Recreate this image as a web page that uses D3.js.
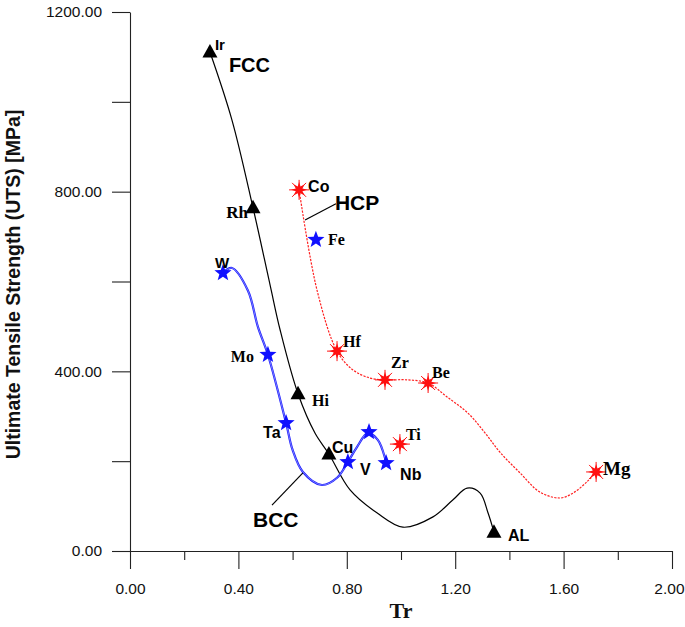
<!DOCTYPE html>
<html>
<head>
<meta charset="utf-8">
<script src="https://cdn.jsdelivr.net/npm/d3@7"></script>
<style>
  html, body { margin: 0; padding: 0; background: #fff; }
  svg { display: block; }
</style>
</head>
<body>
<svg id="chart" width="685" height="627"></svg>
<script>
// ---------------- DATA ----------------
// FCC (black triangles)
const fccNames = ["Ir", "Rh", "Hi", "Cu", "AL"];
const fccTr    = [0.295, 0.454, 0.620, 0.734, 1.343];
const fccUTS   = [1111, 764, 350, 216, 42];
// FCC curve trace
const fccCurveTr  = [0.295, 0.376, 0.454, 0.517, 0.554, 0.620, 0.683, 0.734, 0.812, 0.911, 1.007, 1.118, 1.192, 1.244, 1.292, 1.321, 1.343];
const fccCurveUTS = [1111, 960, 764, 592, 492, 350, 262, 216, 136, 85, 53, 76, 114, 140, 129, 85, 42];

// BCC (blue stars)
const bccNames = ["W", "Mo", "Ta", "V", "", "Nb", "Fe"];
const bccTr    = [0.343, 0.509, 0.576, 0.804, 0.882, 0.945, 0.686];
const bccUTS   = [619, 437, 285, 198, 265, 196, 693];
// BCC curve trace
const bccCurveTr  = [0.343, 0.376, 0.435, 0.472, 0.509, 0.576, 0.600, 0.638, 0.708, 0.764, 0.804, 0.838, 0.878, 0.915, 0.941, 0.945];
const bccCurveUTS = [619, 630, 580, 499, 437, 285, 225, 176, 147, 163, 198, 232, 263, 247, 207, 196];

// HCP (red stars)
const hcpNames = ["Co", "Hf", "Zr", "Be", "Mg", "Ti"];
const hcpTr    = [0.624, 0.764, 0.941, 1.100, 1.720, 0.996];
const hcpUTS   = [804, 445, 381, 374, 176, 238];
// HCP curve trace
const hcpCurveTr  = [0.624, 0.690, 0.764, 0.823, 0.886, 0.941, 1.022, 1.100, 1.170, 1.247, 1.310, 1.365, 1.439, 1.513, 1.587, 1.635, 1.686, 1.720];
const hcpCurveUTS = [804, 581, 445, 403, 385, 381, 381, 374, 343, 307, 263, 220, 174, 131, 118, 129, 154, 176];

// Axis ticks
const xMajorTicks = [0, 0.4, 0.8, 1.2, 1.6, 2.0];
const xMinorTicks = [0.2, 0.6, 1.0, 1.4, 1.8];
const yMajorTicks = [0, 400, 800, 1200];
const yMinorTicks = [200, 600, 1000];

// Group annotations
const groupNames = ["FCC", "HCP", "BCC"];
const groupTr    = [0.365, 0.756, 0.454];
const groupUTS   = [1067, 759, 53];
// leader lines [fromTr, fromUTS, toTr, toUTS]
const leaderHCP = [0.646, 737, 0.760, 773];
const leaderBCC = [0.524, 102, 0.638, 174];

// ---------------- CHART ----------------
const svg = d3.select("#chart");
svg.append("rect").attr("width", 685).attr("height", 627).attr("fill", "#fff");

const x = d3.scaleLinear().domain([0, 2]).range([130, 672]);
const y = d3.scaleLinear().domain([0, 1200]).range([551, 12]);

const axisColor = "#222";
const tickFont = "'Liberation Sans', Arial, sans-serif";

// X axis
const gx = svg.append("g").attr("transform", `translate(0,${y(0)})`);
gx.call(d3.axisBottom(x).tickValues(xMajorTicks).tickSize(18).tickSizeOuter(0).tickPadding(14)
  .tickFormat(d3.format(".2f")));
const gxm = svg.append("g").attr("transform", `translate(0,${y(0)})`);
gxm.call(d3.axisBottom(x).tickValues(xMinorTicks).tickSize(9).tickSizeOuter(0).tickFormat(""));
gxm.select(".domain").remove();

// Y axis
const gy = svg.append("g").attr("transform", `translate(${x(0)},0)`);
gy.call(d3.axisLeft(y).tickValues(yMajorTicks).tickSize(18).tickSizeOuter(0).tickPadding(10)
  .tickFormat(d3.format(".2f")));
const gym = svg.append("g").attr("transform", `translate(${x(0)},0)`);
gym.call(d3.axisLeft(y).tickValues(yMinorTicks).tickSize(18).tickSizeOuter(0).tickFormat(""));
gym.select(".domain").remove();

svg.selectAll(".domain, .tick line").attr("stroke", axisColor).attr("stroke-width", 1.1);
svg.selectAll(".tick text").attr("font-family", tickFont).attr("font-size", 15.5).attr("fill", "#111");
// keep the last x label inside the picture
gx.selectAll(".tick text").filter(d => d === 2.0).attr("text-anchor", "end").attr("dx", 12);

// Axis titles
svg.append("text")
  .attr("transform", `translate(20,${(y(0) + y(1200)) / 2 + 3}) rotate(-90)`)
  .attr("text-anchor", "middle")
  .attr("font-family", tickFont).attr("font-weight", "bold").attr("font-size", 19.5)
  .attr("fill", "#111")
  .text("Ultimate Tensile Strength (UTS) [MPa]");
svg.append("text")
  .attr("x", (x(0) + x(2)) / 2).attr("y", 618)
  .attr("text-anchor", "middle")
  .attr("font-family", "'Liberation Serif', 'Times New Roman', serif").attr("font-weight", "bold").attr("font-size", 22)
  .attr("fill", "#111")
  .text("Tr");

// Curves
const line = d3.line().x(d => x(d[0])).y(d => y(d[1])).curve(d3.curveCatmullRom.alpha(0.5));
svg.append("path").attr("d", line(d3.zip(fccCurveTr, fccCurveUTS)))
  .attr("fill", "none").attr("stroke", "#000").attr("stroke-width", 1.2);
svg.append("path").attr("d", line(d3.zip(bccCurveTr, bccCurveUTS)))
  .attr("fill", "none").attr("stroke", "#1a1aff").attr("stroke-width", 2.2);
svg.append("path").attr("d", line(d3.zip(bccCurveTr, bccCurveUTS)))
  .attr("fill", "none").attr("stroke", "#b8c0ff").attr("stroke-width", 0.6);
svg.append("path").attr("d", line(d3.zip(hcpCurveTr, hcpCurveUTS)))
  .attr("fill", "none").attr("stroke", "#ff2020").attr("stroke-width", 1.2)
  .attr("stroke-dasharray", "2.2,1.3");

// Leader lines
[leaderHCP, leaderBCC].forEach(l => {
  svg.append("line")
    .attr("x1", x(l[0])).attr("y1", y(l[1])).attr("x2", x(l[2])).attr("y2", y(l[3]))
    .attr("stroke", "#000").attr("stroke-width", 1.2);
});

// Marker shapes
function starPath(n, rOut, rIn) {
  const pts = [];
  for (let i = 0; i < 2 * n; i++) {
    const r = i % 2 === 0 ? rOut : rIn;
    const a = -Math.PI / 2 + i * Math.PI / n;
    pts.push([r * Math.cos(a), r * Math.sin(a)]);
  }
  return "M" + pts.map(p => p[0].toFixed(2) + "," + p[1].toFixed(2)).join("L") + "Z";
}
const triPath = "M0,-8L7.5,5.5L-7.5,5.5Z";
const blueStar = starPath(5, 9, 3.8);
const redStar = starPath(8, 8, 3.6);

// FCC markers
svg.append("g").selectAll("path").data(d3.range(fccNames.length)).join("path")
  .attr("transform", i => `translate(${x(fccTr[i])},${y(fccUTS[i])})`)
  .attr("d", triPath).attr("fill", "#000");

// BCC markers
svg.append("g").selectAll("path").data(d3.range(bccNames.length)).join("path")
  .attr("transform", i => `translate(${x(bccTr[i])},${y(bccUTS[i])})`)
  .attr("d", blueStar).attr("fill", "#1010ff");

// HCP markers
const hg = svg.append("g").selectAll("g").data(d3.range(hcpNames.length)).join("g")
  .attr("transform", i => `translate(${x(hcpTr[i])},${y(hcpUTS[i])})`);
hg.append("path").attr("d", redStar).attr("fill", "#ff1010");
hg.append("path").attr("d", "M0,-10V10M-10,0H10M-7,-7L7,7M-7,7L7,-7")
  .attr("stroke", "#ff1010").attr("stroke-width", 1);

// Point labels: [dx, dy, anchor, font, size]
const sans = "'Liberation Sans', Arial, sans-serif";
const serif = "'Liberation Serif', 'Times New Roman', serif";
const fccLabelStyle = [
  [5, -2, "start", sans, 15],
  [-5, 10, "end", serif, 17],
  [14, 12, "start", serif, 16],
  [3, -1, "start", sans, 16],
  [14, 9, "start", sans, 16]
];
const bccLabelStyle = [
  [-8, -5, "start", sans, 15],
  [-14, 7, "end", serif, 16],
  [-23, 15, "start", sans, 16],
  [12, 13, "start", sans, 16],
  [0, 0, "start", sans, 16],
  [14, 17, "start", sans, 16],
  [12, 5, "start", serif, 16]
];
const hcpLabelStyle = [
  [9, 2, "start", sans, 16],
  [6, -4, "start", serif, 16],
  [6, -12, "start", serif, 16],
  [4, -5, "start", serif, 16],
  [7, 3, "start", serif, 19],
  [6, -4, "start", serif, 16]
];
function addLabels(names, tr, uts, styles) {
  svg.append("g").selectAll("text").data(d3.range(names.length)).join("text")
    .attr("x", i => x(tr[i]) + styles[i][0])
    .attr("y", i => y(uts[i]) + styles[i][1])
    .attr("text-anchor", i => styles[i][2])
    .attr("font-family", i => styles[i][3])
    .attr("font-size", i => styles[i][4])
    .attr("font-weight", "bold")
    .attr("fill", "#000")
    .text(i => names[i]);
}
addLabels(fccNames, fccTr, fccUTS, fccLabelStyle);
addLabels(bccNames, bccTr, bccUTS, bccLabelStyle);
addLabels(hcpNames, hcpTr, hcpUTS, hcpLabelStyle);

// Group annotations
const groupSizes = [20, 21, 21];
svg.append("g").selectAll("text").data(d3.range(groupNames.length)).join("text")
  .attr("x", i => x(groupTr[i])).attr("y", i => y(groupUTS[i]))
  .attr("font-family", sans).attr("font-weight", "bold")
  .attr("font-size", i => groupSizes[i]).attr("fill", "#000")
  .text(i => groupNames[i]);
</script>
</body>
</html>
